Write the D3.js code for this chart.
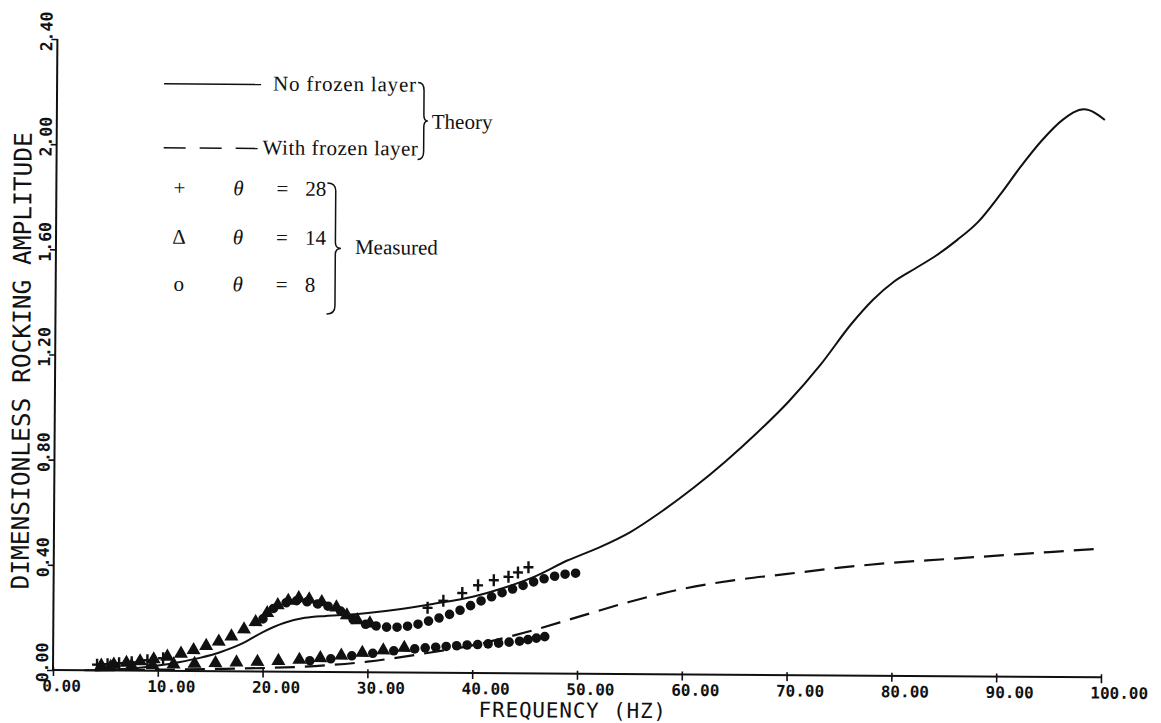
<!DOCTYPE html>
<html>
<head>
<meta charset="utf-8">
<script src="https://cdn.jsdelivr.net/npm/d3@7"></script>
<style>
  html, body { margin: 0; padding: 0; background: #fff; }
  svg { display: block; }
</style>
</head>
<body>
<svg id="chart" width="1161" height="723"></svg>
<script>
// ---- data -------------------------------------------------------------
const xTicks = [0, 10, 20, 30, 40, 50, 60, 70, 80, 90, 100];
const yTicks = [0, 0.4, 0.8, 1.2, 1.6, 2.0, 2.4];

// theory, no frozen layer (solid)
const noFrozenFreq = [3, 6, 8, 10, 12, 14, 16, 18, 20, 22, 24, 26, 28, 30, 33, 36, 40, 43, 46, 49, 52, 55, 58, 61, 64, 67, 70, 73, 76, 78, 80, 82, 84, 86, 88, 90, 92, 94, 96, 98, 100];
const noFrozenAmp  = [0, 0.004, 0.01, 0.02, 0.033, 0.05, 0.073, 0.105, 0.15, 0.185, 0.205, 0.213, 0.218, 0.225, 0.24, 0.26, 0.29, 0.325, 0.37, 0.43, 0.48, 0.54, 0.62, 0.71, 0.81, 0.92, 1.04, 1.18, 1.34, 1.43, 1.50, 1.55, 1.60, 1.66, 1.73, 1.83, 1.94, 2.04, 2.12, 2.16, 2.12];

// theory, with frozen layer (dashed)
const frozenFreq = [4, 10, 15, 20, 25, 30, 35, 40, 45, 50, 55, 60, 65, 70, 75, 80, 85, 90, 95, 100];
const frozenAmp  = [0, 0.004, 0.008, 0.013, 0.022, 0.04, 0.07, 0.105, 0.155, 0.215, 0.275, 0.325, 0.36, 0.385, 0.41, 0.43, 0.445, 0.46, 0.475, 0.49];

// measured, theta = 28 (+)
const plus28Freq = [4.2, 5.2, 6.3, 7.5, 9.0, 10.5, 35.7, 37.2, 39.0, 40.5, 42.0, 43.4, 44.3, 45.3];
const plus28Amp  = [0.01, 0.012, 0.016, 0.02, 0.028, 0.036, 0.235, 0.262, 0.292, 0.322, 0.342, 0.355, 0.372, 0.392];

// measured, theta = 14 (triangle)
const tri14Freq = [4.6, 5.8, 7.0, 8.3, 9.6, 10.9, 12.2, 13.4, 14.6, 15.8, 17.0, 18.2, 19.3, 20.4, 21.4, 22.4, 23.4, 24.4, 25.6, 27.0, 28.0, 29.0, 30.2,
                   5.5, 7.5, 9.5, 11.5, 13.5, 15.5, 17.5, 19.5, 21.5, 23.5, 25.5, 27.5, 29.5, 31.5, 33.5];
const tri14Amp  = [0.01, 0.015, 0.022, 0.028, 0.036, 0.046, 0.058, 0.072, 0.088, 0.105, 0.125, 0.152, 0.18, 0.215, 0.245, 0.262, 0.272, 0.268, 0.258, 0.238, 0.208, 0.19, 0.178,
                   0.006, 0.01, 0.013, 0.017, 0.02, 0.023, 0.026, 0.029, 0.033, 0.038, 0.045, 0.055, 0.066, 0.076, 0.086];

// measured, theta = 8 (circle)
const circ8Freq = [20.0, 21.0, 22.2, 23.2, 24.2, 25.2, 26.2, 27.4, 28.6, 29.8, 30.8, 31.8, 32.8, 33.8, 34.8, 35.8, 36.8, 37.8, 38.8, 39.8, 40.8, 41.8, 42.8, 43.8, 44.8, 45.8, 46.8, 47.8, 48.8, 49.8,
                   24.5, 26.5, 28.5, 30.5, 32.5, 34.5, 35.5, 36.5, 37.5, 38.5, 39.5, 40.5, 41.5, 42.5, 43.5, 44.5, 45.3, 46.1, 46.9];
const circ8Amp  = [0.2, 0.24, 0.262, 0.27, 0.266, 0.258, 0.25, 0.232, 0.2, 0.182, 0.176, 0.172, 0.172, 0.176, 0.184, 0.196, 0.208, 0.222, 0.238, 0.256, 0.274, 0.29, 0.306, 0.32, 0.334, 0.348, 0.36, 0.37, 0.378, 0.382,
                   0.042, 0.05, 0.062, 0.072, 0.082, 0.09, 0.094, 0.097, 0.1, 0.103, 0.106, 0.108, 0.111, 0.114, 0.118, 0.122, 0.128, 0.134, 0.14];

// ---- layout -----------------------------------------------------------
const svg = d3.select("#chart");
const x0 = 53, y0 = 670;                // plot origin
const xMax = 1101, yTop = 39;
const tilt = 0.4;                        // slight clockwise page skew

const x = d3.scaleLinear().domain([0, 100]).range([x0, xMax]);
const y = d3.scaleLinear().domain([0, 2.4]).range([y0, yTop]);

const g = svg.append("g").attr("transform", `rotate(${tilt},${x0},${y0})`);

const ink = "#111";
const tickFont = "'DejaVu Sans Mono', monospace";

// ---- axes -------------------------------------------------------------
const xAxis = d3.axisBottom(x).tickValues(xTicks).tickSize(6).tickFormat(d3.format(".2f"));
const gx = g.append("g").attr("transform", `translate(0,${y0})`).call(xAxis);
gx.select(".domain").attr("stroke", ink).attr("stroke-width", 2).attr("d", `M${x0},0H${xMax}`);
gx.selectAll(".tick line").attr("stroke", ink).attr("stroke-width", 1.6).attr("y1", -3);
gx.selectAll(".tick text")
  .attr("fill", ink)
  .attr("font-family", tickFont)
  .attr("font-weight", "bold")
  .attr("font-size", 16)
  .attr("text-anchor", "start")
  .attr("x", -11)
  .attr("y", 10)
  .attr("dy", "0.71em");

const yAxis = d3.axisLeft(y).tickValues(yTicks).tickSize(6).tickFormat(d3.format(".2f"));
const gy = g.append("g").attr("transform", `translate(${x0},0)`).call(yAxis);
gy.select(".domain").attr("stroke", ink).attr("stroke-width", 2).attr("d", `M0,${y0}V${yTop}`);
gy.selectAll(".tick line").attr("stroke", ink).attr("stroke-width", 1.6);
gy.selectAll(".tick text")
  .attr("fill", ink)
  .attr("font-family", tickFont)
  .attr("font-weight", "bold")
  .attr("font-size", 16.5)
  .attr("text-anchor", "middle")
  .attr("x", null).attr("dy", null)
  .attr("transform", "translate(-5,-8) rotate(-90)")
  .attr("y", 0);

// axis titles
g.append("text")
  .attr("x", 573).attr("y", 714)
  .attr("text-anchor", "middle")
  .attr("font-family", tickFont)
  .attr("font-size", 21)
  .attr("letter-spacing", 0.8)
  .attr("fill", ink)
  .text("FREQUENCY (HZ)");

g.append("text")
  .attr("transform", "translate(28,361) rotate(-90)")
  .attr("text-anchor", "middle")
  .attr("font-family", tickFont)
  .attr("font-size", 24.5)
  .attr("fill", ink)
  .text("DIMENSIONLESS ROCKING AMPLITUDE");

// ---- theory curves ----------------------------------------------------
const line = d3.line().x(d => x(d[0])).y(d => y(d[1])).curve(d3.curveMonotoneX);

g.append("path")
  .datum(d3.zip(noFrozenFreq, noFrozenAmp))
  .attr("fill", "none").attr("stroke", ink).attr("stroke-width", 2)
  .attr("d", line);

g.append("path")
  .datum(d3.zip(frozenFreq, frozenAmp))
  .attr("fill", "none").attr("stroke", ink).attr("stroke-width", 2.2)
  .attr("stroke-dasharray", "20,10")
  .attr("d", line);

// ---- measured points --------------------------------------------------
const marks = g.append("g");
const tri = d3.symbol().type(d3.symbolTriangle).size(85);
const circ = d3.symbol().type(d3.symbolCircle).size(72);

marks.selectAll(".tri").data(d3.zip(tri14Freq, tri14Amp)).join("path")
  .attr("class", "tri")
  .attr("transform", d => `translate(${x(d[0])},${y(d[1]) - 2})`)
  .attr("d", tri).attr("fill", ink);

marks.selectAll(".circ").data(d3.zip(circ8Freq, circ8Amp)).join("path")
  .attr("class", "circ")
  .attr("transform", d => `translate(${x(d[0])},${y(d[1])})`)
  .attr("d", circ).attr("fill", ink);

const plusG = marks.selectAll(".plus").data(d3.zip(plus28Freq, plus28Amp)).join("g")
  .attr("class", "plus")
  .attr("transform", d => `translate(${x(d[0])},${y(d[1]) - 3})`);
plusG.append("line").attr("x1", -5).attr("x2", 5).attr("stroke", ink).attr("stroke-width", 2.4);
plusG.append("line").attr("y1", -6).attr("y2", 6).attr("stroke", ink).attr("stroke-width", 2.4);

// ---- legend -----------------------------------------------------------
const serif = "'Liberation Serif', 'Times New Roman', serif";
const leg = g.append("g").attr("font-family", serif).attr("font-size", 21).attr("fill", ink);

leg.append("line").attr("x1", 160).attr("x2", 257).attr("y1", 83).attr("y2", 83)
  .attr("stroke", ink).attr("stroke-width", 1.5);
leg.append("text").attr("x", 269).attr("y", 89).attr("letter-spacing", 0.8).text("No frozen layer");

leg.append("line").attr("x1", 160).attr("x2", 255).attr("y1", 147).attr("y2", 147)
  .attr("stroke", ink).attr("stroke-width", 1.5).attr("stroke-dasharray", "22,14");
leg.append("text").attr("x", 259).attr("y", 153).attr("letter-spacing", 0.5).text("With frozen layer");

function brace(xa, ya, yb, w) {
  const ym = (ya + yb) / 2;
  return `M${xa},${ya} Q${xa + w * 0.6},${ya} ${xa + w * 0.6},${ya + 8}` +
         ` L${xa + w * 0.6},${ym - 6} Q${xa + w * 0.6},${ym} ${xa + w},${ym}` +
         ` Q${xa + w * 0.6},${ym} ${xa + w * 0.6},${ym + 6}` +
         ` L${xa + w * 0.6},${yb - 8} Q${xa + w * 0.6},${yb} ${xa},${yb}`;
}
leg.append("path").attr("d", brace(414, 80, 157, 10))
  .attr("fill", "none").attr("stroke", ink).attr("stroke-width", 1.5);
leg.append("text").attr("x", 428).attr("y", 126).text("Theory");

const rows = [
  { sym: "+", val: "28", yy: 194 },
  { sym: "Δ", val: "14", yy: 243 },
  { sym: "o", val: "8",  yy: 290 }
];
rows.forEach(r => {
  leg.append("text").attr("x", 176).attr("y", r.yy).attr("text-anchor", "middle").text(r.sym);
  leg.append("text").attr("x", 235).attr("y", r.yy).attr("text-anchor", "middle").attr("font-style", "italic").text("θ");
  leg.append("text").attr("x", 279).attr("y", r.yy).attr("text-anchor", "middle").text("=");
  leg.append("text").attr("x", 302).attr("y", r.yy).text(r.val);
});
leg.append("path").attr("d", brace(324, 181, 312, 14))
  .attr("fill", "none").attr("stroke", ink).attr("stroke-width", 1.5);
leg.append("text").attr("x", 352).attr("y", 252).text("Measured");
</script>
</body>
</html>
